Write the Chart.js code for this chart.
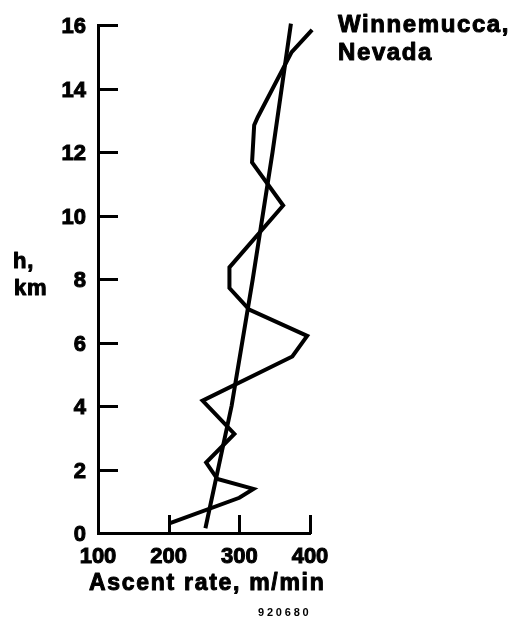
<!DOCTYPE html>
<html>
<head>
<meta charset="utf-8">
<title>Ascent rate profile</title>
<script src="https://cdn.jsdelivr.net/npm/chart.js@4/dist/chart.umd.min.js"></script>
<style>
  html, body { margin: 0; padding: 0; background: #fff; }
  #wrap { width: 522px; height: 623px; position: relative; }
</style>
</head>
<body>
<div id="wrap"><canvas id="c" width="522" height="623"></canvas></div>
<script>
// Measured balloon ascent rate (m/min) against height (km)
const profileRate   = [201, 300, 320, 269, 253, 293, 248, 375, 396, 314, 286, 286, 362, 318, 321, 326, 374, 403];
const profileHeight = [0.3, 1.11, 1.39, 1.70, 2.22, 3.12, 4.17, 5.56, 6.21, 7.04, 7.72, 8.37, 10.32, 11.68, 12.85, 13.1, 15.15, 15.85];

// Fitted trend through the profile
const trendRate   = [252, 289, 319, 347, 373];
const trendHeight = [0.15, 4, 8, 12, 16.05];

// Axis ticks
const rateTicks   = [100, 200, 300, 400];
const heightTicks = [0, 2, 4, 6, 8, 10, 12, 14, 16];

const FONT = '"Liberation Sans", Arial, Helvetica, sans-serif';

const toPoints = (xs, ys) => xs.map((x, i) => ({ x: x, y: ys[i] }));

// Tick marks drawn inward from the axis lines
const inwardTicks = {
  id: 'inwardTicks',
  afterDraw(chart) {
    const { ctx, chartArea, scales } = chart;
    ctx.save();
    ctx.strokeStyle = '#000';
    ctx.lineWidth = 3;
    ctx.lineCap = 'butt';
    ctx.beginPath();
    heightTicks.forEach(v => {
      if (v === scales.y.min) return;
      const y = Math.round(scales.y.getPixelForValue(v)) + 0.5;
      ctx.moveTo(chartArea.left - 1, y);
      ctx.lineTo(chartArea.left + 20, y);
    });
    rateTicks.forEach(v => {
      if (v === scales.x.min) return;
      const x = Math.round(scales.x.getPixelForValue(v)) + 0.5;
      ctx.moveTo(x, chartArea.bottom + 1);
      ctx.lineTo(x, chartArea.bottom - 18);
    });
    ctx.stroke();
    ctx.restore();
  }
};

// Axis titles, site label and figure number (heavy print: fill plus thin outline)
const captions = {
  id: 'captions',
  afterDraw(chart) {
    const ctx = chart.ctx;
    ctx.save();
    ctx.fillStyle = '#000';
    ctx.strokeStyle = '#000';
    ctx.lineJoin = 'round';
    ctx.textBaseline = 'alphabetic';
    ctx.textAlign = 'left';
    const put = (text, x, y, font, spacing, weight) => {
      ctx.font = font;
      ctx.letterSpacing = spacing + 'px';
      ctx.fillText(text, x, y);
      if (weight) {
        ctx.lineWidth = weight;
        ctx.strokeText(text, x, y);
      }
    };
    put('Winnemucca,', 338, 32, 'bold 24px ' + FONT, 1.6, 1);
    put('Nevada', 338, 60, 'bold 24px ' + FONT, 1.6, 1);
    put('h,', 13, 268, 'bold 22px ' + FONT, 0.8, 1);
    put('km', 14, 295, 'bold 22px ' + FONT, 0.8, 1);
    put('Ascent rate, m/min', 89, 590, 'bold 23px ' + FONT, 1.7, 1);
    put('920680', 258, 616, 'bold 11px ' + FONT, 2.8, 0);
    ctx.restore();
  }
};

const tickFont = { family: FONT, size: 22, weight: 'bold' };

new Chart(document.getElementById('c'), {
  type: 'scatter',
  data: {
    datasets: [
      {
        label: 'Winnemucca, Nevada',
        data: toPoints(profileRate, profileHeight),
        showLine: true,
        borderColor: '#000',
        borderWidth: 4,
        borderJoinStyle: 'miter',
        borderCapStyle: 'butt',
        pointRadius: 0,
        tension: 0,
        clip: false
      },
      {
        label: 'Trend',
        data: toPoints(trendRate, trendHeight),
        showLine: true,
        borderColor: '#000',
        borderWidth: 4,
        borderJoinStyle: 'round',
        borderCapStyle: 'butt',
        pointRadius: 0,
        tension: 0,
        clip: false
      }
    ]
  },
  options: {
    responsive: false,
    animation: false,
    devicePixelRatio: 1,
    layout: { padding: { top: 15, right: 212, left: 0, bottom: 0 } },
    plugins: {
      legend: { display: false },
      tooltip: { enabled: false },
      title: { display: false }
    },
    scales: {
      x: {
        type: 'linear',
        min: 100,
        max: 400,
        afterFit(scale) { scale.height = 90; },
        afterBuildTicks(scale) { scale.ticks = rateTicks.map(v => ({ value: v })); },
        grid: { display: true, drawOnChartArea: false, drawTicks: false },
        border: { display: true, color: '#000', width: 3 },
        ticks: {
          color: '#000',
          padding: 11,
          maxRotation: 0,
          textStrokeColor: '#000',
          textStrokeWidth: 1,
          font: tickFont
        }
      },
      y: {
        type: 'linear',
        min: 0,
        max: 16,
        afterFit(scale) { scale.width = 98; },
        afterBuildTicks(scale) { scale.ticks = heightTicks.map(v => ({ value: v })); },
        grid: { display: true, drawOnChartArea: false, drawTicks: false },
        border: { display: true, color: '#000', width: 3 },
        ticks: {
          color: '#000',
          padding: 12,
          labelOffset: 2,
          textStrokeColor: '#000',
          textStrokeWidth: 1,
          font: tickFont
        }
      }
    }
  },
  plugins: [inwardTicks, captions]
});
</script>
</body>
</html>
